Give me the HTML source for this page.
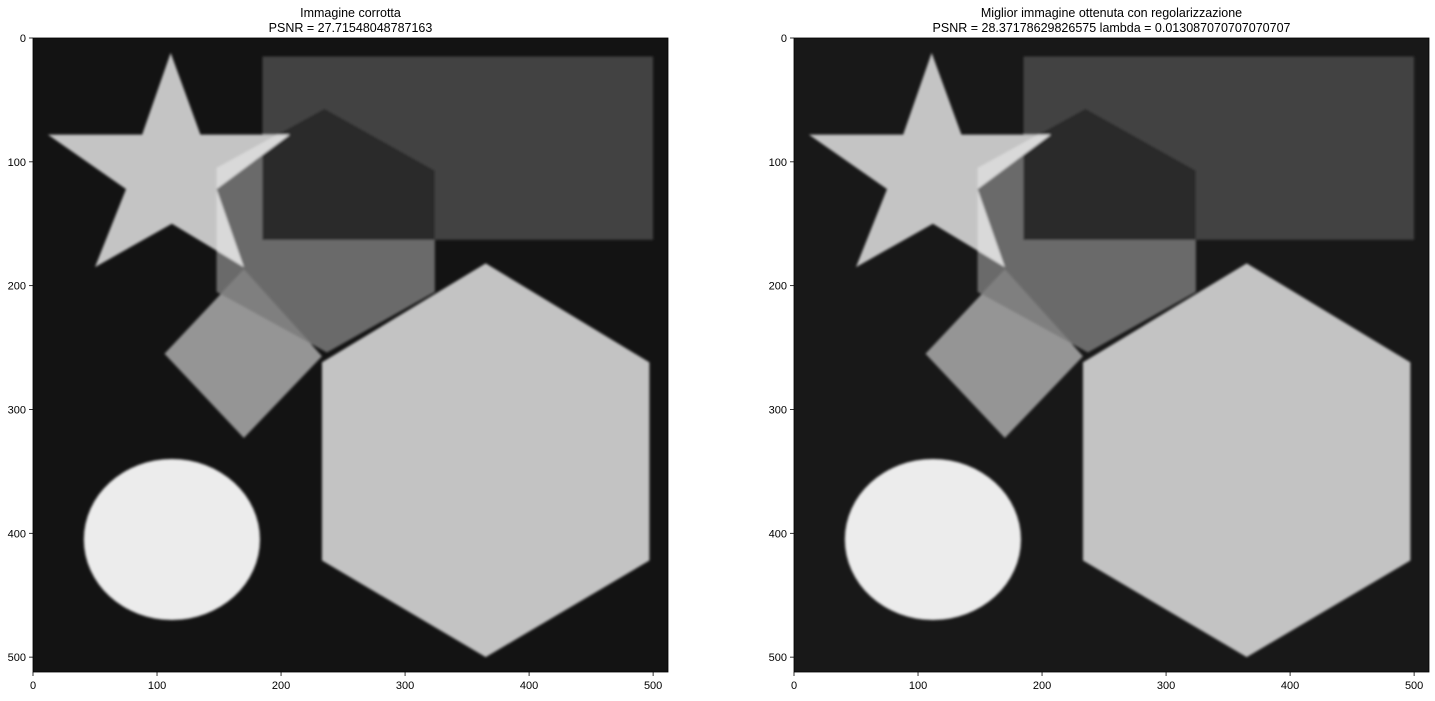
<!DOCTYPE html>
<html><head><meta charset="utf-8">
<style>
html,body{margin:0;padding:0;background:#fff;}
body{width:1435px;height:696px;overflow:hidden;font-family:"Liberation Sans","DejaVu Sans",sans-serif;}
</style></head>
<body>
<svg id="fig" width="1435" height="696" xmlns="http://www.w3.org/2000/svg"></svg>
<script>
// data
const titles1 = ["Immagine corrotta", "PSNR = 27.71548048787163"];
const titles2 = ["Miglior immagine ottenuta con regolarizzazione", "PSNR = 28.37178629826575 lambda = 0.013087070707070707"];
const xTicks = [0, 100, 200, 300, 400, 500];
const yTicks = [0, 100, 200, 300, 400, 500];
const imgSize = 512;
const rectShape = [185, 15, 500, 163];
const housePts = [[235,57],[324,107],[324,205],[237,254],[148,205],[148,105]];
const diamondPts = [[106,255],[170,187],[233,257],[170,323]];
const hexPts = [[365,182],[497,262],[497,422],[365,500],[233,422],[233,262]];
const starPts = [[111,12],[135,78],[207,78],[148,122],[170,185],[112,150],[50,185],[75,122],[12,78],[88,78]];
const ellipseShape = [112, 405, 71, 65];

const NS = "http://www.w3.org/2000/svg";
const svg = document.getElementById("fig");
function mk(tag, attrs, parent){const e=document.createElementNS(NS,tag);for(const k in attrs)e.setAttribute(k,attrs[k]);(parent||svg).appendChild(e);return e;}
const pts = a => a.map(p=>p.join(",")).join(" ");

const defs = mk("defs",{});
const f = mk("filter",{id:"blur",x:"-5%",y:"-5%",width:"110%",height:"110%"},defs);
mk("feGaussianBlur",{stdDeviation:"1"},f);
const cpR = mk("clipPath",{id:"cpRect"},defs); mk("rect",{x:rectShape[0],y:rectShape[1],width:rectShape[2]-rectShape[0],height:rectShape[3]-rectShape[1]},cpR);
const cpH = mk("clipPath",{id:"cpHouse"},defs); mk("polygon",{points:pts(housePts)},cpH);

function panel(x0, y0, w, h, titles, nameSfx, noisy){
  const g = mk("g",{});
  
  
  const sx = w/imgSize, sy = h/imgSize;
  const X = v => x0 + v*sx, Y = v => y0 + v*sy;
  titles.forEach((t,i)=>{
    const tt = mk("text",{x:x0+w/2,y:17+i*15,"text-anchor":"middle","font-size":"12.5",fill:"#000"},g);
    
    
    tt.textContent = t;
  });
  const img = mk("svg",{x:x0,y:y0,width:w,height:h,viewBox:"0 0 512 512",preserveAspectRatio:"none"},g);
  
  
  mk("rect",{x:0,y:0,width:512,height:512,fill:noisy?"#181818":"#131313"},img);
  const s = mk("g",{filter:"url(#blur)"},img);
  mk("rect",{x:rectShape[0],y:rectShape[1],width:rectShape[2]-rectShape[0],height:rectShape[3]-rectShape[1],fill:"#424242"},s);
  mk("polygon",{points:pts(housePts),fill:"#6b6b6b"},s);
  mk("polygon",{points:pts(housePts),fill:"#2c2c2c","clip-path":"url(#cpRect)"},s);
  mk("polygon",{points:pts(diamondPts),fill:"#959595"},s);
  mk("polygon",{points:pts(diamondPts),fill:"#7f7f7f","clip-path":"url(#cpHouse)"},s);
  mk("polygon",{points:pts(hexPts),fill:"#c3c3c3"},s);
  mk("polygon",{points:pts(starPts),fill:"#c4c4c4"},s);
  mk("polygon",{points:pts(starPts),fill:"#d9d9d9","clip-path":"url(#cpHouse)"},s);
  mk("ellipse",{cx:ellipseShape[0],cy:ellipseShape[1],rx:ellipseShape[2],ry:ellipseShape[3],fill:"#ececec"},s);
  mk("rect",{x:x0,y:y0,width:w,height:h,fill:"none",stroke:"#000","stroke-width":"0.8"},g);
  xTicks.forEach(v=>{
    const l = mk("line",{x1:X(v),x2:X(v),y1:y0+h,y2:y0+h+4,stroke:"#000","stroke-width":"0.8"},g);
    
    
    const t = mk("text",{x:X(v),y:y0+h+17,"text-anchor":"middle","font-size":"11",fill:"#000"},g);
    
    
    t.textContent = v;
  });
  yTicks.forEach(v=>{
    const l = mk("line",{x1:x0-4,x2:x0,y1:Y(v),y2:Y(v),stroke:"#000","stroke-width":"0.8"},g);
    
    
    const t = mk("text",{x:x0-7,y:Y(v)+4,"text-anchor":"end","font-size":"11",fill:"#000"},g);
    
    
    t.textContent = v;
  });
}
panel(33, 38, 635, 634, titles1, "left", false);
panel(794, 38, 635, 634, titles2, "right", true);
</script>
</body></html>
